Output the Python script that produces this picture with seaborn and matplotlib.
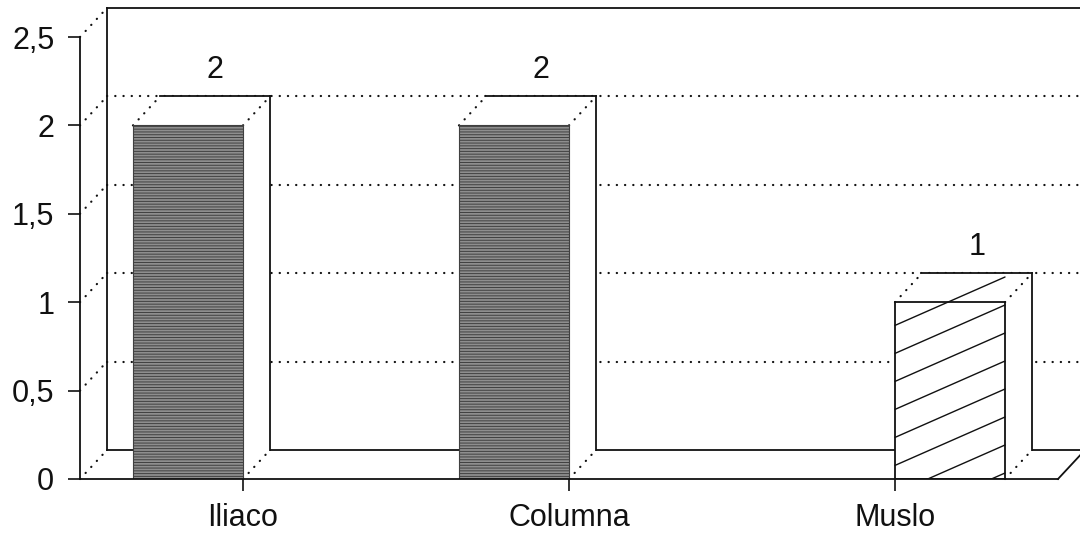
import numpy as np
import pandas as pd
import matplotlib
matplotlib.use("Agg")
import matplotlib.pyplot as plt
import seaborn as sns
from matplotlib.lines import Line2D
from matplotlib.patches import Polygon
from matplotlib.transforms import IdentityTransform

# --- data -------------------------------------------------------------
sites = ["Iliaco", "Columna", "Muslo"]
series = ["sombreado", "rayado"]
shaded_values = [2, 2, 0]
striped_values = [0, 0, 1]
y_ticks = [0, 0.5, 1, 1.5, 2, 2.5]
y_tick_labels = ["0", "0,5", "1", "1,5", "2", "2,5"]

df = pd.DataFrame({
    "sitio": sites * 2,
    "serie": [series[0]] * len(sites) + [series[1]] * len(sites),
    "valor": shaded_values + striped_values,
})

# --- style ------------------------------------------------------------
sns.set_theme(style="white")
plt.rcParams["font.family"] = ["Liberation Sans", "DejaVu Sans"]
plt.rcParams["hatch.linewidth"] = 0.7

INK = "#111111"
SOLID_LW = 1.3
DOT = dict(linestyle=(0, (0.1, 3.6)), linewidth=1.6, color=INK,
           solid_capstyle="round", dash_capstyle="round")
DX, DY = 27, 29          # depth of the pseudo-3D box, in pixels

fig = plt.figure(figsize=(10.8, 5.33), dpi=100)
ax = fig.add_axes([80 / 1080, 54 / 533, 978 / 1080, 442 / 533])

sns.barplot(data=df, x="sitio", y="valor", hue="serie",
            order=sites, hue_order=series,
            palette=["#8e8e8e", "white"], saturation=1,
            width=0.675, errorbar=None, linewidth=0,
            legend=False, ax=ax, zorder=3)

ax.set_xlim(-0.5, 2.5)
ax.set_ylim(0, 2.5)
ax.set_yticks(y_ticks, y_tick_labels)
ax.set_xlabel("")
ax.set_ylabel("")
for side in ("top", "right"):
    ax.spines[side].set_visible(False)
for side in ("left", "bottom"):
    ax.spines[side].set_color(INK)
    ax.spines[side].set_linewidth(SOLID_LW)
    ax.spines[side].set_zorder(4)
ax.tick_params(axis="both", bottom=True, left=True, direction="out",
               length=8.5, width=1.2, color=INK, labelsize=22,
               labelcolor=INK)
ax.tick_params(axis="x", pad=9)
ax.tick_params(axis="y", pad=10)

ident = IdentityTransform()


def px(x, y):
    return ax.transData.transform((x, y))


def seg(p, q, z=1, dotted=False, lw=SOLID_LW):
    kw = DOT if dotted else dict(linewidth=lw, color=INK,
                                 solid_capstyle="projecting")
    ln = Line2D([p[0], q[0]], [p[1], q[1]], transform=ident,
                clip_on=False, zorder=z, **kw)
    ax.add_line(ln)
    return ln


# --- back wall and floor ----------------------------------------------
x0d, x1d = ax.get_xlim()
xl, yb = px(x0d, 0)
xr, _ = px(x1d, 0)
_, yt = px(x0d, y_ticks[-1])

seg((xl + DX, yt + DY), (xr + DX, yt + DY))          # top of back wall
seg((xl + DX, yb + DY), (xl + DX, yt + DY))          # left of back wall
seg((xl + DX, yb + DY), (xr + DX, yb + DY))          # back floor edge
seg((xr, yb), (xr + DX, yb + DY))                    # right floor edge
for v in y_ticks:
    _, yv = px(x0d, v)
    seg((xl, yv), (xl + DX, yv + DY), dotted=True)
    if 0 < v < y_ticks[-1]:
        seg((xl + DX, yv + DY), (xr + DX, yv + DY), dotted=True)

# --- bars: side/top faces, outlines, stripes, labels -------------------
shaded_bars = list(ax.containers[0])
striped_bars = list(ax.containers[1])

for bar in shaded_bars + striped_bars:
    h = bar.get_height()
    if h <= 0:
        bar.set_visible(False)
        continue
    bx0, by0 = px(bar.get_x(), 0)
    bx1, by1 = px(bar.get_x() + bar.get_width(), h)

    top = Polygon([(bx0, by1), (bx1, by1), (bx1 + DX, by1 + DY),
                   (bx0 + DX, by1 + DY)], closed=True, transform=ident,
                  facecolor="white", edgecolor="none", zorder=2.5,
                  clip_on=False)
    side = Polygon([(bx1, by0), (bx1, by1), (bx1 + DX, by1 + DY),
                    (bx1 + DX, by0 + DY)], closed=True, transform=ident,
                   facecolor="white", edgecolor="none", zorder=2.5,
                   clip_on=False)
    ax.add_patch(top)
    ax.add_patch(side)
    seg((bx0 + DX, by1 + DY), (bx1 + DX, by1 + DY), z=2.6)
    seg((bx1 + DX, by0 + DY), (bx1 + DX, by1 + DY), z=2.6)
    seg((bx0, by1), (bx0 + DX, by1 + DY), z=2.6, dotted=True)
    seg((bx1, by1), (bx1 + DX, by1 + DY), z=2.6, dotted=True)
    seg((bx1, by0), (bx1 + DX, by0 + DY), z=2.6, dotted=True)

    ax.annotate(f"{h:g}", xy=(bar.get_x() + bar.get_width() / 2, h),
                xytext=(DX * 0.72, (DY + 11) * 0.72),
                textcoords="offset points", ha="center", va="bottom",
                fontsize=22, color=INK, zorder=5)

for bar in shaded_bars:
    bar.set_hatch("------")
    bar.set_edgecolor("#404040")
    bar.set_linewidth(0.8)

for bar in striped_bars:
    if not bar.get_visible():
        continue
    bar.set_facecolor("white")
    bar.set_edgecolor(INK)
    bar.set_linewidth(SOLID_LW)
    bx0, by0 = px(bar.get_x(), 0)
    bx1, by1 = px(bar.get_x() + bar.get_width(), bar.get_height())
    slope, step = 0.44, 28
    w = bx1 - bx0
    for c in np.arange(-slope * w + 6, by1 - by0, step):
        ln = Line2D([bx0, bx1], [by0 + c, by0 + c + slope * w],
                    transform=ident, color=INK, linewidth=1.0,
                    zorder=3.1)
        ln.set_clip_path(bar)
        ax.add_line(ln)

fig.savefig("out.png", dpi=100, facecolor="white")
